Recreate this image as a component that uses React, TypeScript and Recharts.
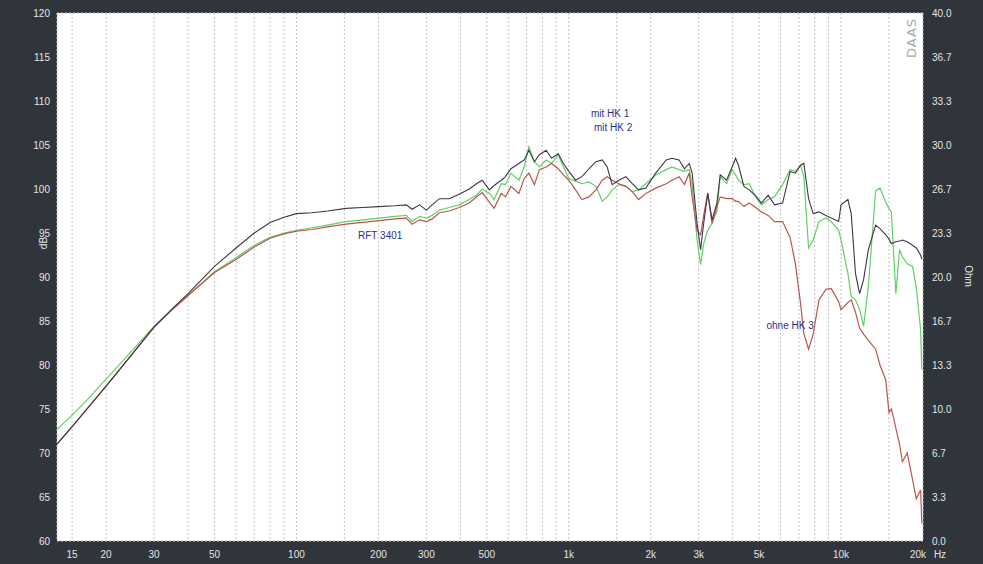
import React from 'react';
import { LineChart, Line, XAxis, YAxis, CartesianGrid, ReferenceDot, ReferenceLine } from 'recharts';

// frequency points (Hz), log axis
const freqs = [
  13.2, 15, 17, 20, 25, 30, 35, 40, 50, 60, 70, 80, 90, 100, 114, 130, 152, 175, 201, 230,
  253, 266, 283, 300, 315, 335, 364, 396, 431, 458, 481, 511, 532, 565, 586, 613, 656, 686, 714, 748,
  780, 826, 865, 915, 956, 1001, 1059, 1118, 1186, 1259, 1327, 1384, 1444, 1528, 1621, 1711, 1806, 1920, 2086, 2280,
  2393, 2542, 2660, 2770, 2840, 2960, 3050, 3130, 3240, 3360, 3500, 3600, 3800, 3980, 4100, 4200, 4400, 4600, 4900, 5100,
  5400, 5700, 6100, 6500, 6800, 7100, 7300, 7600, 7900, 8300, 8800, 9200, 9800, 10000, 10600, 10900, 11300, 11700, 12100, 12600,
  13400, 13900, 14600, 15000, 15300, 15600, 15900, 16400, 16800, 17500, 18300, 18900, 19600, 19800,
];

// dB SPL, black curve
const mitHk1 = [
  71.0, 73.0, 75.0, 77.6, 81.3, 84.3, 86.4, 88.1, 91.2, 93.3, 95.0, 96.2, 96.8, 97.2, 97.3, 97.5, 97.8, 97.9, 98.0, 98.1,
  98.2, 97.7, 98.2, 97.6, 98.2, 98.9, 98.9, 99.4, 100.0, 100.6, 101.0, 99.9, 100.4, 101.0, 101.4, 102.3, 102.9, 103.3, 104.4, 103.1,
  103.9, 104.4, 103.5, 104.0, 102.9, 102.0, 101.0, 101.4, 102.3, 103.1, 103.3, 102.5, 100.5, 101.0, 101.4, 100.6, 99.9, 100.1, 101.8, 103.3,
  103.5, 103.3, 102.3, 102.9, 101.8, 96.1, 93.1, 96.1, 99.5, 96.5, 98.4, 101.6, 101.0, 102.5, 103.5, 102.7, 100.3, 99.9, 99.1, 98.4,
  99.3, 98.2, 98.4, 102.0, 101.8, 102.7, 102.9, 98.9, 97.2, 97.4, 97.0, 96.7, 96.3, 98.2, 98.8, 97.2, 90.4, 88.1, 89.7, 93.1,
  95.9, 95.5, 94.8, 94.3, 93.8, 93.9, 94.0, 94.1, 94.2, 94.0, 93.6, 93.3, 92.5, 92.0,
];

// dB SPL, green curve
const mitHk2 = [
  72.7, 74.3, 76.0, 78.4, 81.7, 84.4, 86.3, 87.9, 90.6, 92.2, 93.6, 94.5, 95.0, 95.3, 95.6, 95.9, 96.3, 96.5, 96.7, 96.9,
  97.0, 96.3, 96.9, 96.7, 97.0, 97.6, 97.9, 98.2, 98.8, 99.3, 100.0, 99.5, 98.8, 100.6, 100.5, 101.8, 101.0, 102.5, 104.8, 103.1,
  102.5, 103.3, 102.9, 103.9, 102.5, 101.2, 100.9, 100.6, 100.8, 100.3, 98.6, 99.1, 99.9, 100.5, 100.3, 99.7, 99.9, 100.6, 101.6, 102.2,
  102.5, 102.2, 102.0, 102.2, 100.5, 94.2, 91.4, 93.8, 95.3, 96.1, 97.5, 101.4, 100.6, 102.2, 101.6, 101.0, 100.5, 100.6, 98.9, 98.2,
  98.8, 99.1, 100.5, 102.2, 102.0, 102.7, 101.4, 93.3, 94.2, 96.3, 96.7, 96.3, 95.3, 94.2, 90.4, 87.8, 87.4, 86.3, 84.4, 88.9,
  99.8, 100.1, 98.5, 97.8, 97.4, 92.7, 88.1, 93.1, 92.3, 91.5, 91.2, 88.8, 84.0, 79.5,
];

// dB SPL, red curve
const ohneHk3 = [
  71.0, 73.0, 75.0, 77.6, 81.3, 84.3, 86.3, 87.9, 90.5, 92.0, 93.4, 94.4, 94.9, 95.2, 95.4, 95.7, 96.0, 96.2, 96.4, 96.6,
  96.7, 96.0, 96.5, 96.3, 96.6, 97.3, 97.5, 97.9, 98.4, 99.1, 99.6, 98.5, 97.8, 99.5, 99.1, 100.3, 99.5, 101.2, 101.8, 100.5,
  102.2, 102.5, 102.9, 102.3, 101.6, 101.0, 99.9, 98.8, 99.1, 99.9, 101.0, 101.4, 101.0, 100.6, 100.3, 99.7, 98.8, 99.5, 100.1, 100.6,
  101.0, 101.4, 100.5, 101.8, 99.1, 95.3, 94.8, 97.0, 99.5, 96.1, 98.0, 99.1, 98.9, 98.9, 98.6, 98.6, 98.0, 98.4, 97.8, 97.4,
  97.0, 96.3, 96.3, 94.5, 91.5, 87.0, 83.6, 81.8, 83.5, 87.4, 88.6, 88.7, 87.2, 86.3, 87.1, 87.4, 86.0, 84.2, 83.5, 82.8,
  81.8, 80.0, 78.3, 74.6, 75.0, 74.0, 72.8, 71.0, 69.0, 70.0, 67.0, 64.8, 65.8, 62.0,
];

const freqTicks = [
  15, 20, 30, 40, 50, 60, 70, 80, 90, 100, 150, 200, 300, 400, 500, 600, 700, 800, 900,
  1000, 1500, 2000, 3000, 4000, 5000, 6000, 7000, 8000, 9000, 10000, 15000, 20000,
];
const freqLabels: Record<number, string> = {
  15: '15', 20: '20', 30: '30', 50: '50', 100: '100', 200: '200', 300: '300', 500: '500',
  1000: '1k', 2000: '2k', 3000: '3k', 5000: '5k', 10000: '10k', 20000: '20k',
};
const dbTicks = [60, 65, 70, 75, 80, 85, 90, 95, 100, 105, 110, 115, 120];
const ohmTicks = [0, 3.33, 6.67, 10, 13.33, 16.67, 20, 23.33, 26.67, 30, 33.33, 36.67, 40];

const data = freqs.map((f, i) => ({ f, hk1: mitHk1[i], hk2: mitHk2[i], hk3: ohneHk3[i] }));

const axisText = { fill: '#e4e4e4', fontSize: 10, fontFamily: 'Liberation Sans, Arial, sans-serif' };
const noteStyle = { fill: '#2a2f8c', fontSize: 10, fontFamily: 'Liberation Sans, Arial, sans-serif' };

function FreqTick(props: any) {
  const { x, y, payload } = props;
  const label = freqLabels[payload.value];
  if (!label) return null;
  if (payload.value === 20000) {
    return (
      <g>
        <text x={x - 5} y={y + 9} textAnchor="middle" {...axisText}>{label}</text>
        <text x={x + 17} y={y + 9} textAnchor="middle" {...axisText}>Hz</text>
      </g>
    );
  }
  return <text x={x} y={y + 9} textAnchor="middle" {...axisText}>{label}</text>;
}

export default function App() {
  return (
    <div style={{ position: 'relative', width: 983, height: 564, background: '#30343b' }}>
      <style>{`body { margin: 0; }`}</style>
      <LineChart width={983} height={564} data={data} margin={{ top: 13, right: 0, bottom: 0, left: 0 }}>
        <CartesianGrid fill="#ffffff" stroke="#c4c4c4" strokeDasharray="2 2" />
        <XAxis
          dataKey="f"
          type="number"
          scale="log"
          domain={[13.2, 20000]}
          allowDataOverflow
          ticks={freqTicks}
          interval={0}
          tick={<FreqTick />}
          tickLine={false}
          axisLine={false}
          height={23}
        />
        <YAxis
          yAxisId="db"
          domain={[60, 120]}
          ticks={dbTicks}
          interval={0}
          width={57}
          tickLine={false}
          axisLine={false}
          tickSize={0}
          tickMargin={7}
          tick={axisText}
        />
        <YAxis
          yAxisId="ohm"
          orientation="right"
          type="number"
          domain={[0, 40]}
          allowDataOverflow
          ticks={ohmTicks}
          interval={0}
          width={60}
          tickLine={false}
          axisLine={false}
          tickSize={0}
          tickMargin={9}
          tick={axisText}
          tickFormatter={(v: number) => v.toFixed(1)}
        />
        <ReferenceLine yAxisId="ohm" y={0} stroke="transparent" ifOverflow="extendDomain" />
        <ReferenceLine yAxisId="ohm" y={40} stroke="transparent" ifOverflow="extendDomain" />
        <Line yAxisId="db" type="linear" dataKey="hk2" stroke="#62cf62" strokeWidth={1.2} dot={false} isAnimationActive={false} />
        <Line yAxisId="db" type="linear" dataKey="hk3" stroke="#bb5450" strokeWidth={1.2} dot={false} isAnimationActive={false} />
        <Line yAxisId="db" type="linear" dataKey="hk1" stroke="#3e3648" strokeWidth={1.1} dot={false} isAnimationActive={false} />
        <ReferenceDot yAxisId="db" x={1419} y={108.6} r={0} ifOverflow="visible"
          label={{ value: 'mit HK 1', position: 'center', ...noteStyle }} />
        <ReferenceDot yAxisId="db" x={1456} y={107.0} r={0} ifOverflow="visible"
          label={{ value: 'mit HK 2', position: 'center', ...noteStyle }} />
        <ReferenceDot yAxisId="db" x={203} y={94.7} r={0} ifOverflow="visible"
          label={{ value: 'RFT 3401', position: 'center', ...noteStyle }} />
        <ReferenceDot yAxisId="db" x={6500} y={84.5} r={0} ifOverflow="visible"
          label={{ value: 'ohne HK 3', position: 'center', ...noteStyle }} />
      </LineChart>
      <div style={{ position: 'absolute', left: 36, top: 236, width: 16, height: 14, color: '#e4e4e4', fontSize: 10,
        fontFamily: 'Liberation Sans, Arial, sans-serif', transform: 'rotate(-90deg)', textAlign: 'center', lineHeight: '14px' }}>dB</div>
      <div style={{ position: 'absolute', left: 955, top: 269, width: 26, height: 14, color: '#e4e4e4', fontSize: 10,
        fontFamily: 'Liberation Sans, Arial, sans-serif', transform: 'rotate(90deg)', textAlign: 'center', lineHeight: '14px' }}>Ohm</div>
      <div style={{ position: 'absolute', left: 889, top: 30, width: 46, height: 16, color: '#a8a8a8', fontSize: 13,
        fontFamily: 'DejaVu Sans, sans-serif', transform: 'rotate(-90deg)', textAlign: 'center', lineHeight: '16px', letterSpacing: 1 }}>DAAS</div>
    </div>
  );
}
